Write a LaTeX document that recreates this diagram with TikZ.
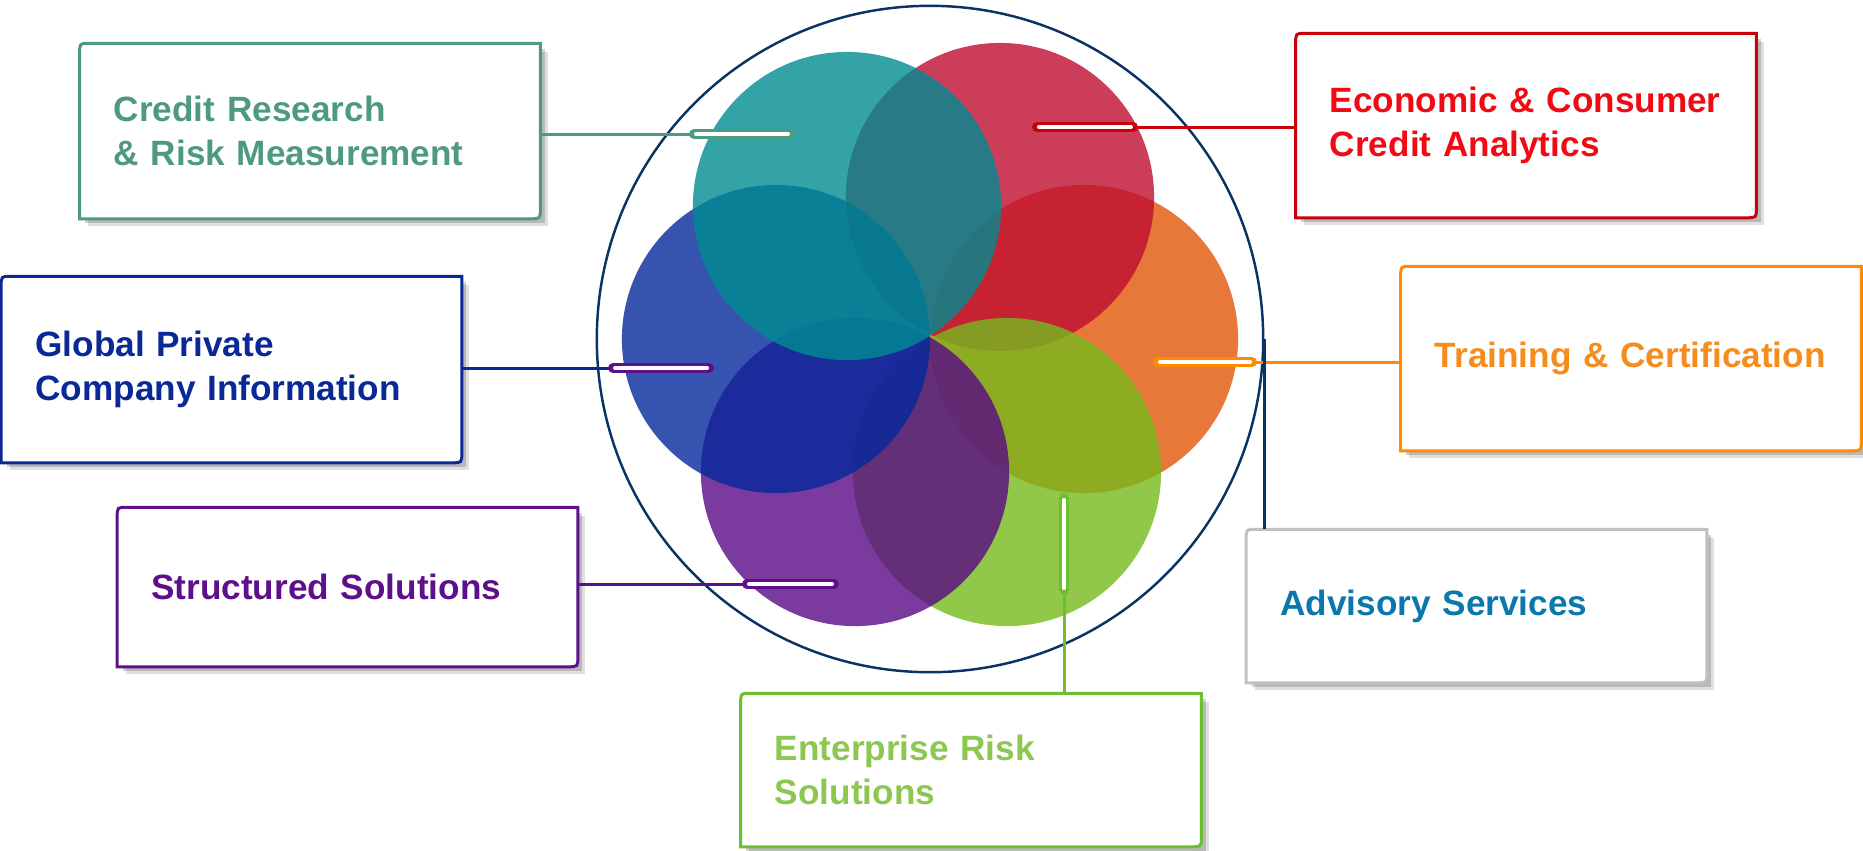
\documentclass[tikz,border=0pt]{standalone}
\usepackage{fontspec}
\setmainfont{Liberation Sans}
\usetikzlibrary{shadows}
\definecolor{crmc}{RGB}{78,154,128}
\definecolor{gpcic}{RGB}{10,40,150}
\definecolor{ssc}{RGB}{94,16,140}
\definecolor{ecac}{RGB}{200,0,10}
\definecolor{ecatext}{RGB}{240,10,20}
\definecolor{tcc}{RGB}{255,140,0}
\definecolor{tctext}{RGB}{245,140,30}
\definecolor{asc}{RGB}{192,192,192}
\definecolor{astext}{RGB}{10,120,170}
\definecolor{ersc}{RGB}{109,190,48}
\definecolor{erstext}{RGB}{140,200,80}
\definecolor{ringc}{RGB}{10,50,100}
\definecolor{tealp}{RGB}{0,140,146}
\definecolor{redp}{RGB}{191,13,49}
\definecolor{orangep}{RGB}{226,85,9}
\definecolor{greenp}{RGB}{119,186,29}
\definecolor{purplep}{RGB}{90,9,134}
\definecolor{bluep}{RGB}{4,40,156}
\tikzstyle{svcbox}=[rectangle, fill=white, minimum width=4.59cm, text width=3.92cm, inner xsep=0.335cm, align=left, font=\bfseries\fontsize{10}{12.5}\selectfont,
    drop shadow={shadow xshift=0.08cm, shadow yshift=-0.08cm, opacity=0.12, fill=black},
    drop shadow={shadow xshift=0.05cm, shadow yshift=-0.05cm, opacity=0.18, fill=black}]
\newcommand{\svcbox}{\node[svcbox]}
\tikzstyle{capsule}=[line width=0.1cm, line cap=round, postaction={draw=white, line width=0.04cm, shorten <=0.02cm, shorten >=0.02cm}]
\tikzstyle{link}=[line width=0.85pt]

\begin{document}
\begin{tikzpicture}[x=0.01cm, y=-0.01cm]
            \useasboundingbox (0,0) rectangle (1863,850);
            \coordinate (ctr) at (930,339);
            % petals, lowest first
            \foreach \pos/\col in {{(1084,339)}/orangep, {(1000,197)}/redp, {(1007,472)}/greenp, {(855,472)}/purplep, {(776,339)}/bluep, {(847,206)}/tealp}
                \fill[\col, fill opacity=0.8] \pos circle (1.54cm);
            \node[circle, draw=ringc, line width=0.7pt, minimum size=6.66cm, inner sep=0pt] (ring) at (ctr) {};
            % boxes
            \svcbox[minimum height=1.74cm, text=crmc] (crm) at (310,131) {Credit Research\\\& Risk Measurement};
            \svcbox[minimum height=1.85cm, text=gpcic] (gpci) at (231.5,369.5) {Global Private\\Company Information};
            \svcbox[minimum height=1.58cm, text=ssc] (ss) at (347.5,587) {Structured Solutions};
            \svcbox[minimum height=1.83cm, text=ecatext] (eca) at (1526,125.5) {Economic \& Consumer\\Credit Analytics};
            \svcbox[minimum height=1.83cm, text=tctext] (tc) at (1631,358.5) {Training \& Certification};
            \svcbox[minimum height=1.52cm, text=astext] (as) at (1476.5,606) {Advisory Services};
            \svcbox[minimum height=1.52cm, text=erstext] (ers) at (971,770) {Enterprise Risk\\Solutions};
            \foreach \n/\c in {crm/crmc, gpci/gpcic, ss/ssc, eca/ecac, tc/tcc, as/asc, ers/ersc}
                \draw[\c, link] (\n.south west) -- ([yshift=-0.1cm]\n.north west) .. controls (\n.north west) .. ([xshift=0.1cm]\n.north west)
                    -- (\n.north east) -- ([yshift=0.1cm]\n.south east) .. controls (\n.south east) .. ([xshift=-0.1cm]\n.south east) -- cycle;
            % capsule ends
            \coordinate (crmcap) at (694,134);
            \coordinate (crmcapb) at (790,134);
            \coordinate (gpcicap) at (613,368);
            \coordinate (gpcicapb) at (709,368);
            \coordinate (sscap) at (747,584);
            \coordinate (sscapb) at (834,584);
            \coordinate (ecacap) at (1133,127);
            \coordinate (ecacapb) at (1037,127);
            \coordinate (tccap) at (1252,362);
            \coordinate (tccapb) at (1158,362);
            \coordinate (erscap) at (1064,590);
            \coordinate (erscapb) at (1064,498);
            \path[link]
                (crm.east |- crmcap) edge[crmc] (crmcap)
                (gpci.east |- gpcicap) edge[gpcic] (gpcicap)
                (ss.east |- sscap) edge[ssc] (sscap)
                (eca.west |- ecacap) edge[ecac] (ecacap)
                (tc.west |- tccap) edge[tcc] (tccap)
                (ers.north -| erscap) edge[ersc] (erscap)
                (ring.east) edge[ringc] (ring.east |- as.north)
            ;
            \draw[capsule, crmc] (crmcap) -- (crmcapb);
            \draw[capsule, ssc] (gpcicap) -- (gpcicapb);
            \draw[capsule, ssc] (sscap) -- (sscapb);
            \draw[capsule, ecac] (ecacap) -- (ecacapb);
            \draw[capsule, tcc] (tccap) -- (tccapb);
            \draw[capsule, ersc] (erscap) -- (erscapb);
        \end{tikzpicture}
\end{document}
